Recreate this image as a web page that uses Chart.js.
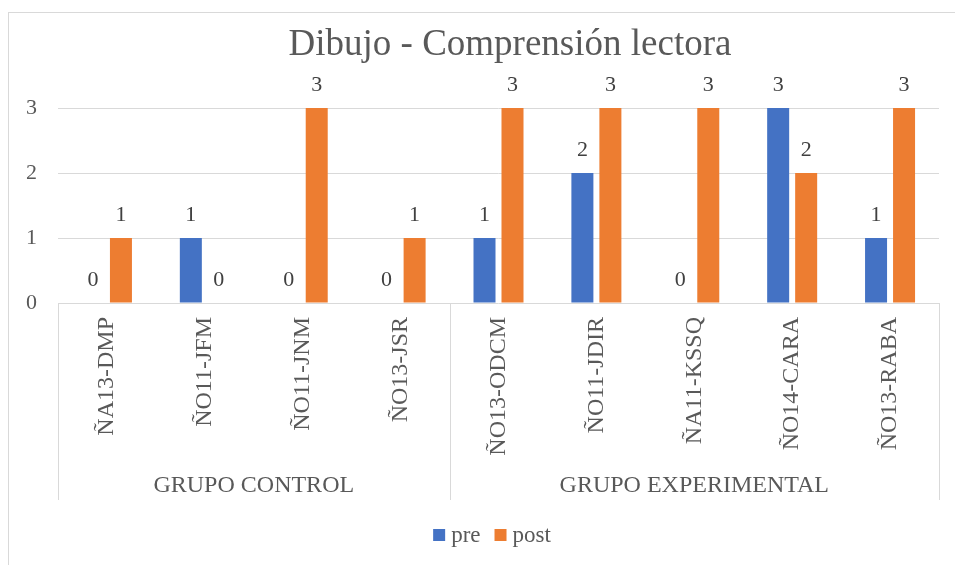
<!DOCTYPE html>
<html>
<head>
<meta charset="utf-8">
<script src="https://cdn.jsdelivr.net/npm/chart.js@4.4.1/dist/chart.umd.min.js"></script>
<style>
  html, body { margin: 0; padding: 0; background: #fff; overflow: hidden; }
</style>
</head>
<body>
<canvas id="chart" width="955" height="565"></canvas>
<script>
// Data
const categories = ['ÑA13-DMP', 'ÑO11-JFM', 'ÑO11-JNM', 'ÑO13-JSR', 'ÑO13-ODCM', 'ÑO11-JDIR', 'ÑA11-KSSQ', 'ÑO14-CARA', 'ÑO13-RABA'];
const preValues = [0, 1, 0, 0, 1, 2, 0, 3, 1];
const postValues = [1, 0, 3, 1, 3, 3, 3, 2, 3];
const groupLabels = ['GRUPO CONTROL', 'GRUPO EXPERIMENTAL'];
const groupSizes = [4, 5];
const yTicks = [0, 1, 2, 3];

const FONT = '"Liberation Serif", "Times New Roman", serif';
const GRID = '#d9d9d9';
const TEXT = '#595959';

// Outer frame + title
const framePlugin = {
    id: 'frame',
    beforeDraw(chart) {
        const ctx = chart.ctx;
        ctx.save();
        ctx.fillStyle = '#fff';
        ctx.fillRect(0, 0, chart.width, chart.height);
        ctx.strokeStyle = GRID;
        ctx.lineWidth = 1;
        ctx.strokeRect(8.5, 12.5, 1100, 700);
        ctx.restore();
    },
    afterDraw(chart) {
        const ctx = chart.ctx;
        ctx.save();
        ctx.fillStyle = TEXT;
        ctx.font = '37px ' + FONT;
        ctx.textAlign = 'center';
        ctx.textBaseline = 'alphabetic';
        ctx.fillText('Dibujo - Comprensión lectora', 510, 55);
        ctx.restore();
    }
};

// Values above the bars
const valueLabels = {
    id: 'valueLabels',
    afterDatasetsDraw(chart) {
        const ctx = chart.ctx;
        ctx.save();
        ctx.fillStyle = '#404040';
        ctx.font = '22px ' + FONT;
        ctx.textAlign = 'center';
        ctx.textBaseline = 'alphabetic';
        chart.data.datasets.forEach((ds, i) => {
            chart.getDatasetMeta(i).data.forEach((bar, j) => {
                ctx.fillText(String(ds.data[j]), bar.x, bar.y - 17);
            });
        });
        ctx.restore();
    }
};

// Second level of the category axis
const groupAxis = {
    id: 'groupAxis',
    afterDraw(chart) {
        const x = chart.scales.x;
        const ctx = chart.ctx;
        const top = x.top;
        const bottom = 500;
        const step = (x.right - x.left) / categories.length;
        ctx.save();
        ctx.strokeStyle = GRID;
        ctx.lineWidth = 1;
        ctx.fillStyle = TEXT;
        ctx.font = '24px ' + FONT;
        ctx.textAlign = 'center';
        ctx.textBaseline = 'middle';
        let start = 0;
        const edges = [x.left];
        groupSizes.forEach((n, g) => {
            const l = x.left + start * step;
            const r = x.left + (start + n) * step;
            edges.push(r);
            ctx.fillText(groupLabels[g], (l + r) / 2, 486);
            start += n;
        });
        edges.forEach(px => {
            const xx = Math.round(px) + 0.5;
            ctx.beginPath();
            ctx.moveTo(xx, top);
            ctx.lineTo(xx, bottom);
            ctx.stroke();
        });
        ctx.restore();
    }
};

// Legend drawn like the spreadsheet one: small square, tight text
const legendPlugin = {
    id: 'sheetLegend',
    afterDraw(chart) {
        const ctx = chart.ctx;
        ctx.save();
        ctx.font = '23px ' + FONT;
        ctx.textBaseline = 'middle';
        ctx.textAlign = 'left';
        const box = 12, gap = 6, space = 14, cy = 536;
        const items = chart.data.datasets.map(ds => ({ text: ds.label, color: ds.backgroundColor, w: ctx.measureText(ds.label).width }));
        const total = items.reduce((s, it) => s + box + gap + it.w, 0) + space * (items.length - 1);
        let cx = 492 - total / 2;
        items.forEach(it => {
            ctx.fillStyle = it.color;
            ctx.fillRect(cx, cy - box / 2 - 1, box, box);
            ctx.fillStyle = TEXT;
            ctx.fillText(it.text, cx + box + gap, cy);
            cx += box + gap + it.w + space;
        });
        ctx.restore();
    }
};

function draw() {
    new Chart(document.getElementById('chart'), {
        type: 'bar',
        data: {
            labels: categories,
            datasets: [
                { label: 'pre', data: preValues, backgroundColor: '#4472c4' },
                { label: 'post', data: postValues, backgroundColor: '#ed7d31' }
            ]
        },
        options: {
            responsive: false,
            animation: false,
            devicePixelRatio: 1,
            categoryPercentage: 0.572,
            barPercentage: 0.786,
            layout: { padding: { top: 108, right: 16, bottom: 62, left: 0 } },
            scales: {
                x: {
                    grid: { display: false },
                    border: { display: false },
                    ticks: {
                        color: TEXT,
                        font: { family: FONT, size: 24 },
                        minRotation: 90,
                        maxRotation: 90,
                        autoSkip: false,
                        padding: 6
                    },
                    afterFit(scale) { scale.height = 200; }
                },
                y: {
                    min: 0,
                    max: 3,
                    afterBuildTicks(scale) { scale.ticks = yTicks.map(v => ({ value: v })); },
                    grid: { color: GRID, drawTicks: false },
                    border: { display: false },
                    ticks: {
                        color: TEXT,
                        font: { family: FONT, size: 22 },
                        padding: 21
                    },
                    afterFit(scale) { scale.width = 58; }
                }
            },
            plugins: {
                legend: { display: false },
                tooltip: { enabled: false }
            }
        },
        plugins: [framePlugin, valueLabels, groupAxis, legendPlugin]
    });
}

Promise.all([
    document.fonts.load('37px "Liberation Serif"'),
    document.fonts.load('24px "Liberation Serif"')
]).then(draw, draw);
</script>
</body>
</html>
